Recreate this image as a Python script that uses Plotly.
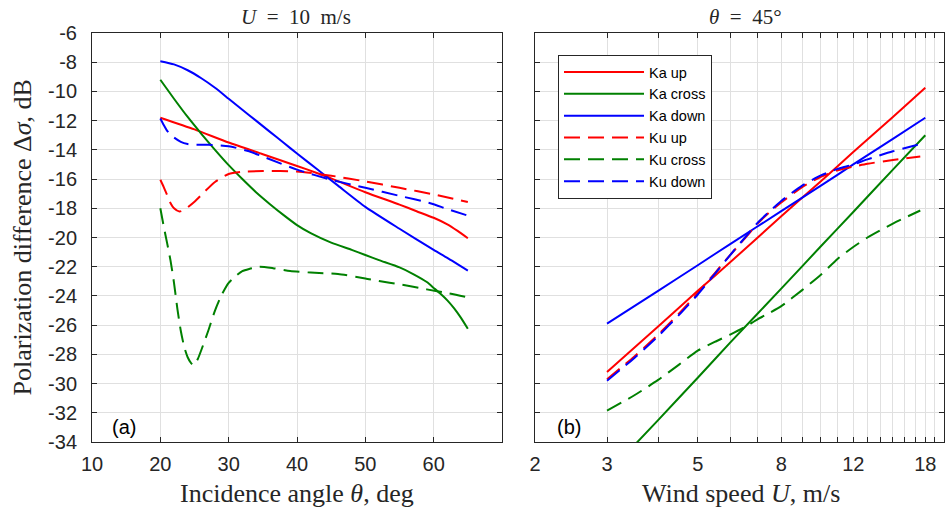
import plotly.graph_objects as go

# ---------------- Panel (a): U = 10 m/s, x = incidence angle (deg) ----------------
theta_ka_up = [20, 25, 30, 35, 40, 43, 45, 50, 55, 57.5, 60, 62, 63.5, 65]
ka_up_a = [-11.8, -12.6, -13.5, -14.3, -15.1, -15.6, -15.95, -16.9, -17.75, -18.2, -18.65, -19.1, -19.55, -20.05]

theta_ka_cross = [20, 22, 24, 26, 28, 30, 32, 34, 36, 38, 40, 42, 45, 48, 50, 52, 55, 57, 59, 60, 61, 62, 63, 64, 65]
ka_cross_a = [-9.2, -10.5, -11.75, -12.9, -14.0, -15.05, -16.0, -16.9, -17.7, -18.45, -19.15, -19.7, -20.35,
              -20.85, -21.2, -21.55, -22.05, -22.5, -23.05, -23.45, -23.85, -24.3, -24.85, -25.5, -26.25]

theta_ka_down = [20, 22, 24, 26, 28, 30, 32, 34, 36, 38, 40, 43, 46, 50, 55, 60, 62, 65]
ka_down_a = [-7.93, -8.15, -8.55, -9.1, -9.75, -10.5, -11.25, -12.0, -12.75, -13.5, -14.25, -15.35, -16.45,
             -17.9, -19.4, -20.85, -21.4, -22.27]

theta_ku_up = [20, 20.5, 21, 21.5, 22, 22.8, 23.5, 25, 26.5, 28, 30, 32, 35, 40, 45, 50, 55, 60, 65]
ku_up_a = [-16.05, -16.55, -17.1, -17.65, -18.0, -18.22, -18.1, -17.55, -16.85, -16.2, -15.65, -15.5, -15.45,
           -15.48, -15.77, -16.16, -16.6, -17.05, -17.57]

theta_ku_cross = [20, 20.5, 21, 21.5, 22, 22.5, 23, 23.5, 24, 24.5, 24.9, 25.5, 26, 27, 28, 29, 30, 31, 32, 33,
                  34.5, 36.5, 39, 42, 46, 50, 52, 55, 59, 62, 65]
ku_cross_a = [-18.0, -19.25, -20.4, -21.6, -23.1, -24.9, -26.4, -27.5, -28.2, -28.6, -28.75, -28.3, -27.7, -26.4,
              -25.0, -23.9, -23.1, -22.65, -22.3, -22.15, -22.0, -22.1, -22.3, -22.4, -22.5, -22.8, -22.98,
              -23.2, -23.55, -23.8, -24.1]

theta_ku_down = [20, 20.5, 21, 21.5, 22, 23, 24, 25, 27, 30, 33, 35.5, 40, 45, 50, 55, 59.5, 62, 65]
ku_down_a = [-11.85, -12.3, -12.7, -12.95, -13.15, -13.45, -13.6, -13.65, -13.65, -13.75, -14.1, -14.55, -15.35,
             -16.05, -16.6, -17.15, -17.65, -18.05, -18.5]

# ---------------- Panel (b): theta = 45 deg, x = wind speed (m/s) ----------------
u_ka = [3, 4, 5, 6, 8, 10, 12, 15, 18]
ka_up_b = [-29.2, -26.1, -23.65, -21.7, -18.55, -16.15, -14.15, -11.75, -9.75]
ka_cross_b = [-36.2, -32.5, -29.6, -27.2, -23.5, -20.6, -18.25, -15.35, -13.0]
ka_down_b = [-25.9, -23.65, -21.9, -20.45, -18.2, -16.45, -15.0, -13.25, -11.8]

u_ku = [3, 3.5, 4, 4.5, 5, 5.5, 6, 6.5, 7, 7.5, 8, 9, 10, 11, 12, 13, 15, 17.5]
ku_up_b = [-29.7, -28.15, -26.65, -25.2, -23.8, -22.45, -21.2, -20.1, -19.05, -18.25, -17.6, -16.55, -15.85,
           -15.4, -15.15, -14.95, -14.7, -14.45]
ku_cross_b = [-31.85, -30.8, -29.75, -28.7, -27.75, -27.15, -26.65, -26.15, -25.6, -25.15, -24.7, -23.6, -22.55,
              -21.45, -20.65, -20.0, -19.05, -18.15]
ku_down_b = [-29.8, -28.25, -26.75, -25.3, -23.9, -22.5, -21.2, -20.05, -19.0, -18.2, -17.5, -16.45, -15.75,
             -15.3, -15.0, -14.65, -14.1, -13.6]

# ---------------- Tick labels ----------------
y_ticks = list(range(-34, -5, 2))
y_ticklabels = [str(v) for v in y_ticks]
theta_ticks = [10, 20, 30, 40, 50, 60, 70]
theta_ticklabels = ["10", "20", "30", "40", "50", "60", ""]
u_ticks = list(range(2, 21))
u_labeled = [2, 3, 5, 8, 12, 18]
u_ticklabels = [str(v) if v in u_labeled else "" for v in u_ticks]

RED, GREEN, BLUE = "#ff0000", "#008000", "#0000ff"
DASH = "16px,8px"
SANS = "Liberation Sans, Arial, sans-serif"
SERIF = "Liberation Serif, Times New Roman, serif"
INK = "#262626"

fig = go.Figure()


def add(x, y, name, color, dash, xa, ya, show):
    fig.add_trace(go.Scatter(
        x=x, y=y, mode="lines", name=name, legendgroup=name, showlegend=show,
        line=dict(color=color, width=2, dash=dash, shape="spline", smoothing=0.6),
        xaxis=xa, yaxis=ya, hoverinfo="skip"))


# Panel (a)
add(theta_ka_up, ka_up_a, "Ka up", RED, "solid", "x", "y", False)
add(theta_ka_cross, ka_cross_a, "Ka cross", GREEN, "solid", "x", "y", False)
add(theta_ka_down, ka_down_a, "Ka down", BLUE, "solid", "x", "y", False)
add(theta_ku_up, ku_up_a, "Ku up", RED, DASH, "x", "y", False)
add(theta_ku_cross, ku_cross_a, "Ku cross", GREEN, DASH, "x", "y", False)
add(theta_ku_down, ku_down_a, "Ku down", BLUE, DASH, "x", "y", False)
# Panel (b)
add(u_ka, ka_up_b, "Ka up", RED, "solid", "x2", "y2", True)
add(u_ka, ka_cross_b, "Ka cross", GREEN, "solid", "x2", "y2", True)
add(u_ka, ka_down_b, "Ka down", BLUE, "solid", "x2", "y2", True)
add(u_ku, ku_up_b, "Ku up", RED, DASH, "x2", "y2", True)
add(u_ku, ku_cross_b, "Ku cross", GREEN, DASH, "x2", "y2", True)
add(u_ku, ku_down_b, "Ku down", BLUE, DASH, "x2", "y2", True)

W, H = 945, 512
L_PANEL = (92, 502)
R_PANEL = (535, 944)
TOP, BOT = 33, 442

axis_common = dict(
    showline=True, linecolor=INK, linewidth=1, mirror="ticks",
    ticks="inside", ticklen=5, tickwidth=1, tickcolor=INK,
    showgrid=True, gridcolor="#e0e0e0", gridwidth=1, zeroline=False,
    tickfont=dict(family=SANS, size=20, color=INK), automargin=False,
)

fig.update_layout(
    width=W, height=H,
    margin=dict(l=0, r=0, t=TOP, b=H - BOT, pad=0, autoexpand=False),
    paper_bgcolor="white", plot_bgcolor="white",
    showlegend=True,
    xaxis=dict(axis_common, domain=[L_PANEL[0] / W, L_PANEL[1] / W], range=[10, 70],
               tickmode="array", tickvals=theta_ticks, ticktext=theta_ticklabels,
               anchor="y", ticklabelstandoff=4),
    yaxis=dict(axis_common, domain=[0, 1], range=[-34, -6], tickmode="array",
               tickvals=y_ticks, ticktext=y_ticklabels, anchor="x", ticklabelstandoff=10),
    xaxis2=dict(axis_common, domain=[R_PANEL[0] / W, R_PANEL[1] / W], type="log",
                range=[0.30103, 1.30103], tickmode="array", tickvals=u_ticks,
                ticktext=u_ticklabels, anchor="y2", ticklabelstandoff=4),
    yaxis2=dict(axis_common, domain=[0, 1], range=[-34, -6], tickmode="array",
                tickvals=y_ticks, ticktext=["" for _ in y_ticks], anchor="x2",
                matches="y"),
    legend=dict(
        x=558 / W, y=(BOT - 55) / (BOT - TOP), xanchor="left", yanchor="top",
        bgcolor="white", bordercolor=INK, borderwidth=1,
        font=dict(family=SANS, size=14.5, color="#000000"),
        itemwidth=80, tracegroupgap=0,
    ),
)


def px_x(px):
    return px / W


def px_y(py):
    return (BOT - py) / (BOT - TOP)


annos = [
    dict(text="<i>U</i>\u2002=\u200210\u2002m/s", x=px_x(296), y=px_y(17),
         font=dict(family=SERIF, size=21, color=INK)),
    dict(text="<i>θ</i>\u2002=\u200245°", x=px_x(745), y=px_y(17),
         font=dict(family=SERIF, size=21, color=INK)),
    dict(text="Incidence angle <i>θ</i>, deg", x=px_x(297), y=px_y(494),
         font=dict(family=SERIF, size=26, color=INK)),
    dict(text="Wind speed <i>U</i>, m/s", x=px_x(741), y=px_y(494),
         font=dict(family=SERIF, size=26, color=INK)),
    dict(text="Polarization difference Δ<i>σ</i>, dB", x=px_x(22), y=px_y(237.5),
         textangle=-90, font=dict(family=SERIF, size=26, color=INK)),
    dict(text="(a)", x=px_x(124), y=px_y(427), font=dict(family=SANS, size=20, color="#000000")),
    dict(text="(b)", x=px_x(569), y=px_y(427), font=dict(family=SANS, size=20, color="#000000")),
]
for a in annos:
    a.update(xref="paper", yref="paper", showarrow=False, xanchor="center", yanchor="middle")
fig.update_layout(annotations=annos)

fig.write_html("out.html", config={"displayModeBar": False},
               post_script="document.body.style.margin='0';")
